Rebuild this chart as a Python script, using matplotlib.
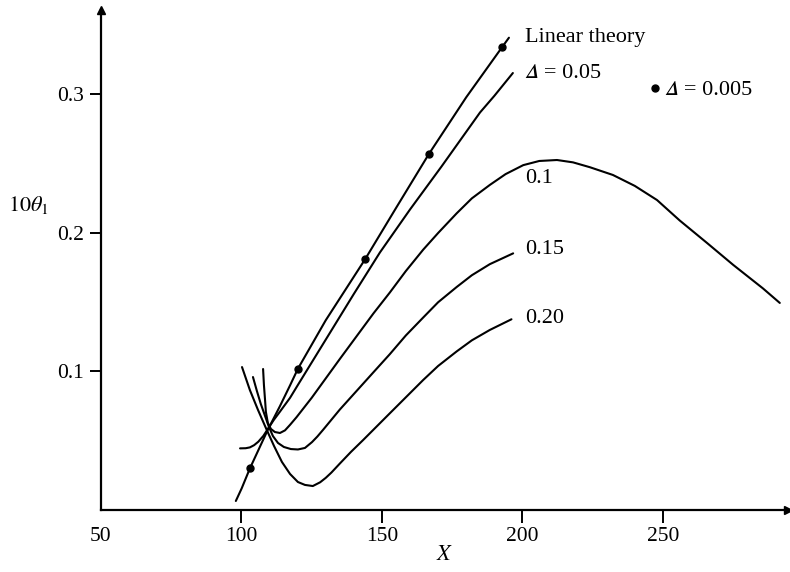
import matplotlib
matplotlib.use("Agg")
import matplotlib.pyplot as plt
import matplotlib.lines as mlines

plt.rcParams['font.family'] = 'serif'
plt.rcParams['font.serif'] = ['Liberation Serif', 'DejaVu Serif']
plt.rcParams['mathtext.fontset'] = 'stix'

# linear theory curve
lin_x = [98.0, 100.1, 103.0, 109.4, 113.7, 117.3, 120.1, 130.0, 144.0, 155.0, 166.7, 180.0, 192.7, 195.2]
lin_y = [0.0065, 0.0157, 0.030, 0.058, 0.075, 0.090, 0.102, 0.137, 0.181, 0.218, 0.257, 0.298, 0.334, 0.341]

# Delta = 0.005 points (lie on linear theory)
d005_x = [103.0, 120.1, 144.0, 166.7, 192.7]
d005_y = [0.0305, 0.102, 0.181, 0.257, 0.334]

# Delta = 0.05
d05_x = [99.5, 101.5, 103.0, 104.5, 106.0, 107.8, 109.4, 111.5, 113.7, 117.3, 120.0, 130.0, 140.0, 149.3,
         160.0, 171.2, 184.9, 190.0, 196.6]
d05_y = [0.0445, 0.0446, 0.0452, 0.0468, 0.0493, 0.0535, 0.0585, 0.065, 0.071, 0.081, 0.090, 0.123, 0.156,
         0.186, 0.217, 0.248, 0.287, 0.299, 0.3155]

# Delta = 0.1
d10_x = [107.7, 108.0, 108.4, 108.7, 109.4, 110.5, 111.9, 113.7, 115.5, 117.3, 119.6, 125.0, 130.0, 135.0,
         141.0, 147.0, 152.8, 158.5, 164.7, 170.0, 176.6, 182.0, 188.4, 194.0, 200.3, 206.0, 212.3, 218.0,
         224.0, 232.2, 240.0, 247.9, 256.0, 265.7, 275.0, 285.6, 291.6]
d10_y = [0.1018, 0.0903, 0.0794, 0.0708, 0.0628, 0.0585, 0.0563, 0.0556, 0.0575, 0.0615, 0.067, 0.081, 0.095,
         0.109, 0.1255, 0.142, 0.157, 0.1725, 0.188, 0.200, 0.2142, 0.225, 0.2347, 0.2425, 0.249, 0.252,
         0.2527, 0.251, 0.2475, 0.2419, 0.234, 0.2238, 0.209, 0.1928, 0.177, 0.160, 0.1495]

# Delta = 0.15
d15_x = [104.1, 105.5, 106.9, 108.4, 109.8, 111.2, 113.0, 115.1, 117.6, 120.1, 122.6, 125.1, 127.0, 129.1,
         135.0, 141.0, 147.0, 152.8, 158.5, 164.7, 170.0, 176.6, 182.0, 188.4, 196.7]
d15_y = [0.0960, 0.0859, 0.0765, 0.0679, 0.0599, 0.0534, 0.0484, 0.0455, 0.0440, 0.0437, 0.0448, 0.049,
         0.053, 0.058, 0.0725, 0.086, 0.0995, 0.1125, 0.126, 0.139, 0.150, 0.161, 0.1695, 0.1775, 0.1853]

# Delta = 0.20
d20_x = [100.2, 103.0, 105.9, 108.7, 111.6, 114.4, 117.3, 120.1, 122.6, 125.4, 128.0, 130.0, 132.0, 135.0,
         139.0, 143.3, 152.8, 164.7, 170.0, 176.6, 182.0, 188.4, 196.1]
d20_y = [0.1032, 0.0866, 0.0722, 0.0592, 0.0462, 0.0347, 0.0260, 0.0202, 0.0181, 0.0173, 0.0200, 0.0232,
         0.027, 0.0335, 0.042, 0.0505, 0.0698, 0.0939, 0.104, 0.1145, 0.1225, 0.130, 0.1377]

x_ticks = [50, 100, 150, 200, 250]
y_ticks = [0.1, 0.2, 0.3]

DELTA = '\U0001D6E5'  # mathematical italic capital delta
label_family = ['Liberation Serif', 'STIXGeneral', 'DejaVu Serif']

fig = plt.figure(figsize=(7.9, 5.72), dpi=100)
ax = fig.add_axes([0.1278, 0.1084, 0.8696, 0.8741])

lw = 1.5
for xs, ys in [(lin_x, lin_y), (d05_x, d05_y), (d10_x, d10_y), (d15_x, d15_y), (d20_x, d20_y)]:
    ax.plot(xs, ys, color='black', lw=lw, solid_capstyle='round', solid_joinstyle='round')
ax.plot(d005_x, d005_y, 'o', color='black', ms=5)

ax.set_xlim(50, 294.5)
ax.set_ylim(0, 0.361)

for s in ['top', 'right']:
    ax.spines[s].set_visible(False)
for s in ['left', 'bottom']:
    ax.spines[s].set_linewidth(1.6)

ax.set_xticks(x_ticks)
ax.set_xticklabels([str(v) for v in x_ticks])
ax.set_yticks(y_ticks)
ax.set_yticklabels(['0.1', '0.2', '0.3'])
ax.tick_params(axis='x', direction='out', length=9, width=1.4, labelsize=15.5, pad=3)
ax.tick_params(axis='y', direction='out', length=8, width=1.4, labelsize=15.5, pad=4)
ax.xaxis.get_major_ticks()[0].tick1line.set_visible(False)

# axis arrows
ax.plot(1, 0, '>', color='black', ms=6, transform=ax.transAxes, clip_on=False)
ax.plot(0, 1, '^', color='black', ms=6, transform=ax.transAxes, clip_on=False)

ax.set_xlabel(r'$X$', fontsize=16, labelpad=0)
ax.text(-0.135, 0.61, r'$10\theta_1$', transform=ax.transAxes, fontsize=16, ha='left', va='center')

# curve labels
fs = 16
ax.text(200.9, 0.341, 'Linear theory', fontsize=fs, ha='left', va='center')
ax.text(200.9, 0.3155, DELTA + ' = 0.05', fontsize=fs, ha='left', va='center', family=label_family)
ax.text(200.9, 0.239, '0.1', fontsize=fs, ha='left', va='center')
ax.text(200.9, 0.188, '0.15', fontsize=fs, ha='left', va='center')
ax.text(200.9, 0.138, '0.20', fontsize=fs, ha='left', va='center')

dot_handle = mlines.Line2D([], [], color='black', marker='o', linestyle='None', markersize=5)
leg = ax.legend(handles=[dot_handle], labels=[DELTA + ' = 0.005'], loc='center left',
                bbox_to_anchor=(0.798, 0.84), frameon=False, handlelength=0.5, handletextpad=0.2,
                borderpad=0, borderaxespad=0, fontsize=fs)
for t in leg.get_texts():
    t.set_family(label_family)

fig.savefig('out.png', dpi=100)
